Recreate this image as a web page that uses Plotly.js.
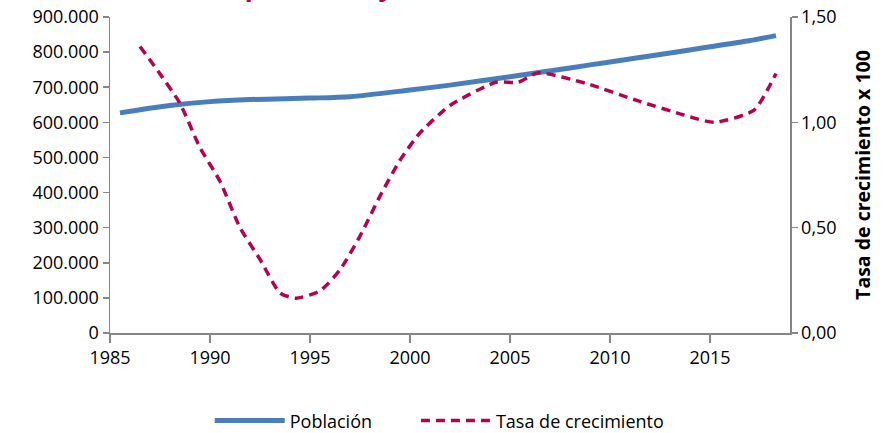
<!DOCTYPE html>
<html>
<head>
<meta charset="utf-8">
<script src="https://cdn.plot.ly/plotly-3.0.1.min.js"></script>
<style>html,body{margin:0;padding:0;background:#fff;}#chart{width:885px;height:433px;}</style>
</head>
<body>
<div id="chart"></div>
<script>
// Población (left axis)
const popYears = [1985.5, 1988, 1990, 1992, 1995, 1997, 2000, 2002, 2005, 2008, 2010, 2012, 2015, 2017, 2018.3];
const popValues = [627000, 648000, 659000, 665000, 669000, 673000, 692000, 706000, 730000, 755000, 772000, 789000, 815000, 833000, 847000];

// Tasa de crecimiento x 100 (right axis)
const rateYears = [1986.5, 1987.5, 1988.5, 1989.5, 1990.5, 1991.5, 1992.5, 1993.5, 1994.3, 1995.5, 1996.5, 1997.5, 1998.5, 1999.5, 2000.5, 2002, 2004.3, 2005.4, 2006.4, 2008.8, 2011.3, 2013.7, 2015.2, 2017.2, 2018.3];
const rateValues = [1.36, 1.23, 1.09, 0.88, 0.72, 0.50, 0.35, 0.19, 0.165, 0.20, 0.30, 0.46, 0.65, 0.82, 0.95, 1.08, 1.19, 1.19, 1.235, 1.185, 1.105, 1.035, 1.0, 1.058, 1.232];

const xTicks = [1985, 1990, 1995, 2000, 2005, 2010, 2015];
const titleText = "Evolución de la población y tasa de crecimiento";

const font = "'Open Sans', 'Noto Sans', sans-serif";

const traces = [
  {
    x: popYears, y: popValues, name: "Población", type: "scatter", mode: "lines",
    line: {color: "#4a7ebb", width: 5, shape: "spline", smoothing: 0.8},
    yaxis: "y", legend: "legend"
  },
  {
    x: rateYears, y: rateValues, name: "Tasa de crecimiento", type: "scatter", mode: "lines",
    line: {color: "#b8004f", width: 3.5, dash: "9px,6px", shape: "spline", smoothing: 0.6},
    yaxis: "y2", legend: "legend2"
  }
];

const axisCommon = {
  showline: true, linecolor: "#868686", linewidth: 1.5,
  ticks: "outside", tickcolor: "#868686", tickwidth: 1.5,
  showgrid: false, zeroline: false,
  tickfont: {family: font, size: 18, color: "#000"}
};

const legendCommon = {
  orientation: "h", xref: "container", yref: "container", xanchor: "left", y: 0.028, yanchor: "middle",
  font: {family: font, size: 18, color: "#000"}, itemwidth: 70, bgcolor: "rgba(0,0,0,0)"
};

const layout = {
  width: 885, height: 433,
  margin: {l: 110, r: 95, t: 17, b: 100},
  paper_bgcolor: "#fff", plot_bgcolor: "#fff",
  separators: ",.",
  showlegend: true,
  legend: Object.assign({}, legendCommon, {x: 0.237}),
  legend2: Object.assign({}, legendCommon, {x: 0.470}),
  xaxis: Object.assign({}, axisCommon, {
    range: [1985, 2019], tickvals: xTicks, ticktext: xTicks.map(String), ticklen: 8
  }),
  yaxis: Object.assign({}, axisCommon, {
    range: [0, 900000], dtick: 100000, tickformat: ",d", ticklen: 6
  }),
  yaxis2: Object.assign({}, axisCommon, {
    overlaying: "y", side: "right", range: [0, 1.5], dtick: 0.5, tickformat: ".2f", ticklen: 6,
    title: {text: "<b>Tasa de crecimiento x 100</b>", font: {family: font, size: 19.5, color: "#000"}, standoff: 20}
  }),
  annotations: [{
    text: "<b>" + titleText + "</b>", xref: "paper", yref: "paper",
    x: -0.1, xanchor: "left", y: 1, yanchor: "bottom", yshift: 11, showarrow: false,
    font: {family: font, size: 26, color: "#b8004f"}
  }]
};

Plotly.newPlot("chart", traces, layout, {displayModeBar: false, staticPlot: true});
</script>
</body>
</html>
